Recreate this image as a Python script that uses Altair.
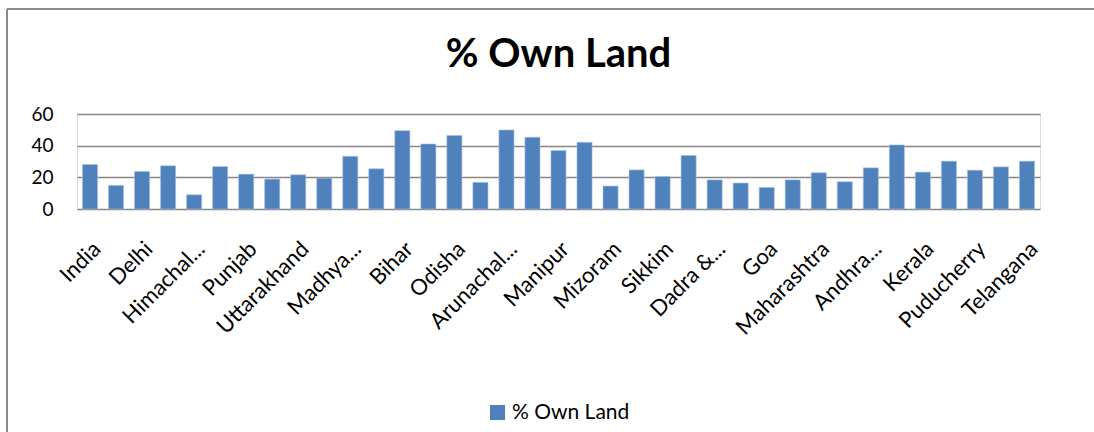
import altair as alt
import pandas as pd

states = [
    "India", "Jammu & Kashmir", "Delhi", "Haryana", "Himachal Pradesh",
    "Chandigarh", "Punjab", "Rajasthan", "Uttarakhand", "Uttar Pradesh",
    "Madhya Pradesh", "Chhattisgarh", "Bihar", "Jharkhand", "Odisha",
    "West Bengal", "Arunachal Pradesh", "Assam", "Manipur", "Meghalaya",
    "Mizoram", "Nagaland", "Sikkim", "Tripura", "Dadra & Nagar Haveli",
    "Daman & Diu", "Goa", "Gujarat", "Maharashtra", "Karnataka",
    "Andhra Pradesh", "Lakshadweep", "Kerala", "Tamil Nadu", "Puducherry",
    "Andaman & Nicobar Islands", "Telangana",
]
own_land = [
    28.1, 14.9, 23.7, 27.3, 9.0, 26.8, 22.0, 18.9, 21.6, 19.5,
    33.3, 25.4, 49.5, 41.1, 46.5, 16.8, 49.9, 45.3, 36.9, 42.1,
    14.5, 24.7, 20.5, 33.8, 18.4, 16.4, 13.6, 18.4, 22.9, 17.2,
    26.0, 40.5, 23.3, 30.2, 24.5, 26.6, 30.2,
]
short_labels = {
    "Himachal Pradesh": "Himachal...",
    "Madhya Pradesh": "Madhya...",
    "Arunachal Pradesh": "Arunachal...",
    "Dadra & Nagar Haveli": "Dadra &...",
    "Andhra Pradesh": "Andhra...",
}
series_name = "% Own Land"

df = pd.DataFrame({"State": states, "Value": own_land, "Series": series_name})

label_expr = "datum.label"
for full, short in short_labels.items():
    label_expr = f"datum.label == '{full}' ? '{short}' : ({label_expr})"

FONT = "Lato"
GRID = "#868686"

bars = alt.Chart(df).mark_bar(color="#4F81BD", stroke="#A9C1E2", strokeWidth=0.6).encode(
    x=alt.X(
        "State:N",
        sort=None,
        title=None,
        scale=alt.Scale(paddingInner=0.42, paddingOuter=0.21),
        axis=alt.Axis(
            values=states[::2],
            labelExpr=label_expr,
            labelAngle=-45,
            labelAlign="right",
            labelBaseline="top",
            labelFontSize=22,
            labelFont=FONT,
            labelColor="#000000",
            labelPadding=29,
            ticks=False,
            domain=False,
            labelOverlap=False,
            labelLimit=300,
        ),
    ),
    y=alt.Y(
        "Value:Q",
        title=None,
        scale=alt.Scale(domain=[0, 60], nice=False),
        axis=alt.Axis(
            values=[0, 20, 40, 60],
            labelFontSize=19,
            labelFont=FONT,
            labelColor="#000000",
            labelPadding=24,
            ticks=False,
            domain=False,
            grid=True,
            gridColor=GRID,
            gridWidth=1.4,
            gridOpacity=1,
        ),
    ),
    color=alt.Color(
        "Series:N",
        scale=alt.Scale(range=["#4F81BD"]),
        legend=alt.Legend(
            title=None,
            orient="none",
            legendX=410,
            legendY=288,
            symbolType="square",
            symbolSize=225,
            symbolStrokeWidth=0,
            labelFontSize=21,
            labelFont=FONT,
            labelColor="#000000",
        ),
    ),
)

frame_df = pd.DataFrame({"k": [0]})
left_border = alt.Chart(frame_df).mark_rule(color="#8C8C8C", strokeWidth=2).encode(
    x=alt.value(-70), y=alt.value(-105), y2=alt.value(318)
)
top_border = alt.Chart(frame_df).mark_rule(color="#8C8C8C", strokeWidth=2).encode(
    x=alt.value(-70), x2=alt.value(1017), y=alt.value(-105)
)

chart = alt.layer(bars, left_border, top_border).properties(
    width=963,
    height=95,
    title=alt.TitleParams(
        text="% Own Land",
        font=FONT,
        fontSize=40,
        fontWeight="bold",
        color="#000000",
        anchor="middle",
        frame="group",
        baseline="alphabetic",
        offset=0,
        dy=99,
    ),
    autosize=alt.AutoSizeParams(type="none"),
    padding={"left": 77, "top": 114, "right": 54, "bottom": 223},
).configure_view(stroke=None).configure(background="white")

chart.save("out.html", embed_options={"renderer": "svg", "actions": False})
